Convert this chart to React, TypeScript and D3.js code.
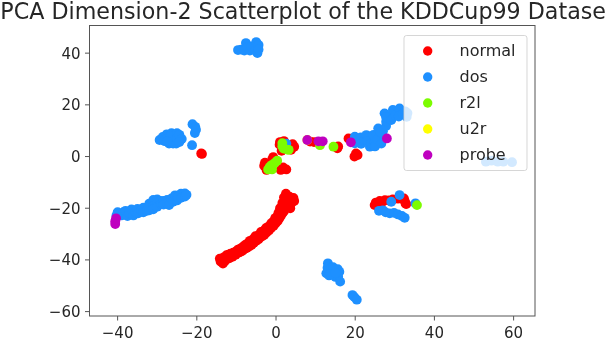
import React from "react";
import * as d3 from "d3";

type P = [number, number];

const normalPoints: P[] = [
  [-14.2,-39.5],[-14,-40.6],[-13.4,-41.4],[-13.2,-39],[-12.9,-40.4],[-12.5,-38.2],[-11.8,-39.4],[-12,-38],[-11.5,-37.6],[-11,-38.8],[-10.8,-37.2],[-10.2,-36.8],[-10.2,-38],[-9.5,-37.2],[-9.6,-36],[-9,-35.6],[-8.8,-36.8],[-8.4,-36.4],[-8.4,-35],[-8,-35.8],[-7.8,-34.2],[-7.4,-35.4],[-7.2,-33.6],[-6.8,-34.8],[-6.6,-32.6],[-6.2,-34.2],[-5.6,-33.4],[-5.8,-32],[-5.2,-30.8],[-5,-32.6],[-4.4,-32],[-4.4,-30.4],[-3.8,-29.2],[-3.6,-31],[-3,-30.4],[-3,-28.6],[-2.5,-27.6],[-2.4,-29.4],[-1.8,-28.6],[-1.8,-27],[-1.2,-25.8],[-1.2,-27.6],[-0.6,-26.8],[-0.6,-25],[-0.2,-23.8],[-0.1,-25.8],[0.4,-25],[0.4,-23],[0.6,-21.8],[0.8,-24],[1.2,-23],[1.2,-21],[1,-20],[1.6,-22],[2,-21.2],[2,-19.8],[1.6,-18],[2.8,-19.4],[2.2,-17],[2,-15.8],[2.5,-14.4],[3,-17],[3.8,-18.2],[3.4,-15.5],[3,-15.6],[4.4,-16],[4.6,-17.2],[3.6,-20],
  [-18.7,1],[-18.9,1.2],
  [1,5.6],[0.9,4.6],[2,6],[4.2,4.8],[4.6,3.8],[3.8,2.6],[1.4,2.2],
  [-0.7,-0.2],[-1,-1.2],[-2.8,-2.4],[-3,-3.6],[-2.4,-5.2],[1.2,-5.2],[2.6,-5],[1.8,-4.2],
  [8.6,5.8],[9.6,5.6],[10.6,5.6],
  [15.7,3.9],[15.5,3.2],
  [18.3,7],[20.2,1.2],[19.8,0],[20.6,0.6],
  [24.9,-18.8],[25.2,-17.8],[26.2,-17.2],[26.5,-18.5],[27.5,-16.9],[28.5,-17],[29.5,-16.6],[30.8,-16.3],[32.3,-16.2],[32.5,-17.2],[32.7,-18.2],[32.9,-18.4],
];

const dosPoints: P[] = [
  [-9.6,41.2],[-8.8,41.4],[-8,41],[-7.6,43.9],[-7.2,42.2],[-6.6,41],[-6.2,42.6],[-5,44.3],[-5,42.5],[-4.4,43.2],[-5.2,41],[-4.7,40],[-4.4,41.4],
  [-29.4,6.4],[-28.6,7.6],[-28.2,6],[-27.6,8.6],[-27.5,7],[-27,5],[-26.4,9],[-26,7],[-26.6,8],[-26,5],[-25.2,5],[-25,9],[-25,7],[-24.4,8.4],[-23.8,6.8],[-24.4,5.6],[-27.6,5.8],
  [-21.1,12.5],[-20.4,11.5],[-20.5,9.1],[-20.2,10.4],[-21.2,4.4],
  [-40.3,-22.8],[-40,-21.5],[-39.6,-22.2],[-39,-22.8],[-38.6,-21.6],[-38,-21],[-37.5,-23],[-37,-22],[-36.5,-20.5],[-36,-22.8],[-35.6,-21.4],[-35,-20.3],[-34.8,-22],[-34,-20.8],[-33.5,-19.8],[-33.5,-21.6],[-32.6,-20],[-32.6,-21],[-32,-18.2],[-32,-19.6],[-32,-20.8],[-31,-16.8],[-31,-18],[-31,-19.2],[-31,-20.4],[-30,-16.6],[-30,-18],[-30,-19.4],[-29.2,-17.2],[-29,-18.4],[-28.4,-17.2],[-28.4,-18.6],[-27.5,-16.8],[-27.5,-18.2],[-27,-18.8],[-26.4,-16.2],[-26,-17.5],[-25.5,-15],[-25,-17],[-24.8,-15.8],[-24,-14.4],[-24,-16],[-23,-14.3],[-23,-15.5],[-22.6,-14.8],
  [19.9,7.7],[19.9,5.1],[20.8,6.4],[21.4,7.4],[21.5,4.9],[22.2,6.4],[22.8,8.3],[23,6],[23.7,3.8],[24,5],[24.9,5.7],[24.6,8.4],[25,3.9],[25.8,10.9],[26.2,7.7],[25.6,6.6],[26.6,5],[27,9.8],[26.4,9.4],[27.8,11.8],[27.4,16.7],[27.8,13.5],[28.4,15.4],[27.8,15.2],[29.1,14.1],[29.5,18],[30.2,16],[31.2,18.6],[31,15.5],[32,16.5],[32.6,17.5],[33,15.4],[33.2,16.8],
  [53,-2],[54.4,-1.6],[56,-2],[57.4,-2],[59.6,-2.2],
  [29.1,-17.5],[31.2,-14.9],[35.2,-18.1],
  [26,-21],[27,-20.8],[27.7,-21.6],[28.7,-22],[29.8,-21.8],[30.8,-22.4],[31.8,-23],[32.5,-23.7],
  [13.1,-41.3],[13,-43],[12.7,-45.2],[13.4,-46],[14,-43],[14.4,-44.6],[15,-46.6],[15.6,-43.6],[16,-44.6],[15.7,-46.5],[16.2,-48.4],[14.4,-42.8],[13.8,-45.4],[15,-45],
  [19.3,-53.6],[19.8,-54.4],[20.4,-55.4],
  [2.6,5],
];

const r2lPoints: P[] = [
  [1.6,5.2],[1.6,4],[1.9,3.1],[2.8,2.7],[3.2,2.6],
  [0.3,-1.6],[-0.4,-2.6],[-1.1,-3.3],[-1.6,-4],[-2,-5],[-1,-5],
  [11.1,4.4],[14.5,3.8],[35.6,-18.8],
];

const u2rPoints: P[] = [[7.9,6.4]];

const probePoints: P[] = [
  [7.9,6.4],[10.7,5.9],[11.8,5.9],[18.9,5.5],[28,7],[-40.4,-23.9],[-40.6,-25],[-40.6,-26.1],
];

const seriesNames = ["normal", "dos", "r2l", "u2r", "probe"];
const seriesColors = ["#ff0000", "#1e90ff", "#7cfc00", "#ffff00", "#bf00bf"];
const seriesPoints = [normalPoints, dosPoints, r2lPoints, u2rPoints, probePoints];
const xTicks = [-40, -20, 0, 20, 40, 60];
const yTicks = [-60, -40, -20, 0, 20, 40];
const titleText = "PCA Dimension-2 Scatterplot of the KDDCup99 Dataset";

const W = 606, H = 340;
const L = 89.5, R = 535, T = 25.5, B = 316;
const x = d3.scaleLinear().domain([-47.1, 65.4]).range([L, R]);
const y = d3.scaleLinear().domain([-61.7, 50.7]).range([B, T]);
const FONT = "'DejaVu Sans', sans-serif";
const INK = "#262626";
const AXIS = "#555";

export default function App() {
  const legendRows = seriesNames.map((_, i) => 51 + i * 26);
  return (
    <svg width={W} height={H} viewBox={`0 0 ${W} ${H}`}
      style={{ position: "absolute", left: 0, top: 0, filter: "blur(0.45px)" }}
      fontFamily={FONT}>
      <rect width={W} height={H} fill="#fff" />
      <text x={307.5} y={19} fontSize={22.2} textAnchor="middle" fill={INK}>{titleText}</text>

      {seriesPoints.map((pts, i) => (
        <g key={seriesNames[i]} fill={seriesColors[i]}>
          {pts.map((p, j) => <circle key={j} cx={x(p[0])} cy={y(p[1])} r={4.9} />)}
        </g>
      ))}

      <rect x={L} y={T} width={R - L} height={B - T} fill="none" stroke={AXIS} strokeWidth={1} />
      {xTicks.map(t => (
        <g key={t}>
          <line x1={x(t)} x2={x(t)} y1={B} y2={B + 4.5} stroke={AXIS} />
          <text x={x(t)} y={B + 22} fontSize={15} textAnchor="middle" fill={INK}>{t < 0 ? `\u2212${-t}` : t}</text>
        </g>
      ))}
      {yTicks.map(t => (
        <g key={t}>
          <line x1={L - 4.5} x2={L} y1={y(t)} y2={y(t)} stroke={AXIS} />
          <text x={L - 9} y={y(t) + 5.5} fontSize={15} textAnchor="end" fill={INK}>{t < 0 ? `\u2212${-t}` : t}</text>
        </g>
      ))}

      <rect x={404} y={35.5} width={123} height={135} rx={2.5} fill="#fff" fillOpacity={0.8} stroke="#ccc" strokeOpacity={0.8} />
      {seriesNames.map((n, i) => (
        <g key={n}>
          <circle cx={427.7} cy={legendRows[i]} r={4.7} fill={seriesColors[i]} />
          <text x={459.5} y={legendRows[i] + 4.8} fontSize={16} fill={INK}>{n}</text>
        </g>
      ))}
    </svg>
  );
}
